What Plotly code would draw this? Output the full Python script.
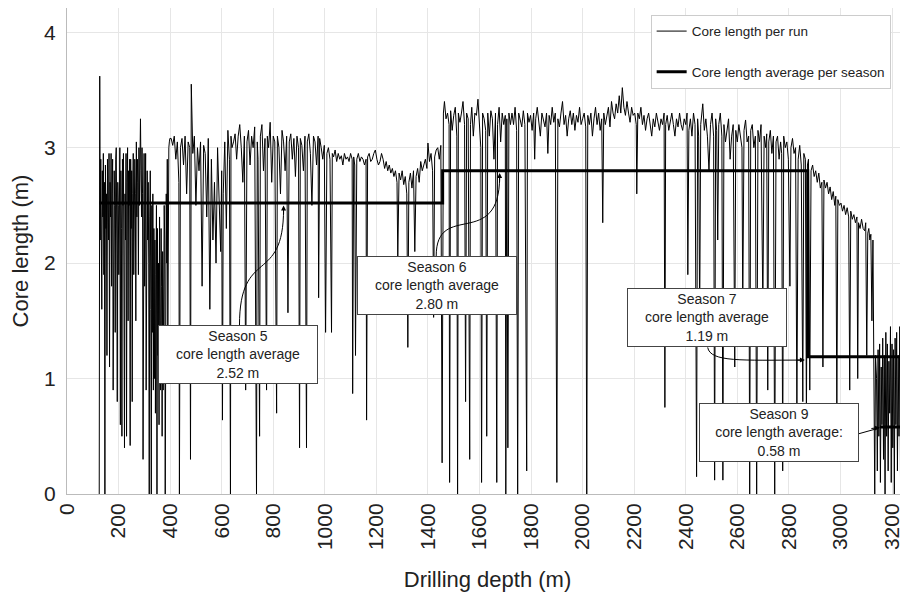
import plotly.graph_objects as go

# ---------------- data: core length per run ----------------
depth_s5a = [125,127,129,131,133,135,137,139,141,143,
             145,147,149,151,153,155,157,159,161,163,
             165,167,169,171,173,175,177,179,181,183,
             185,187,189,191,193,195,197,199,201,203,
             205,207,209,211,213,215,217,219,221,223,
             225,227,229,231,233,235,237,239,241,243,
             245,247,249,251,253,255,257,259,261,263,
             265,267,269,271,273,275,277,279,281,283,
             285,287,289,291,293,295,297,299,301,303,
             305,307,309,311,313,315,317,319,321,323,
             325,327,329,331,333,335,337,339,341,343,
             345,347,349,351,353,355,357,359,361,363,
             365,367,369,371,373,375,377,379,381,383,
             385,387,389,391,393,395,397,399]
length_s5a = [0.0,3.62,2.2,2.9,2.5,1.6,2.8,2.4,2.95,1.9,
              2.7,0.0,2.85,2.3,2.6,1.2,2.9,2.5,2.2,2.95,
              1.1,2.7,2.4,2.95,1.8,2.6,2.9,0.9,2.3,2.8,
              2.5,1.4,2.9,3.0,2.2,0.8,2.7,2.5,1.9,2.95,
              3.0,0.6,2.8,2.3,0.5,2.9,2.5,2.95,1.7,0.4,
              2.6,2.2,2.95,0.5,2.7,3.0,1.5,2.8,2.5,2.9,
              0.42,2.9,2.3,2.8,0.8,2.6,2.95,1.9,2.4,2.9,
              2.6,1.5,3.05,2.4,2.9,2.7,1.9,3.0,2.5,2.9,
              3.25,2.8,2.4,3.0,2.6,0.3,2.7,2.95,1.8,2.6,
              2.95,0.9,2.5,2.8,2.2,2.7,2.0,0.0,2.4,2.8,
              1.6,0.0,2.5,1.4,2.6,0.9,2.3,1.0,2.2,0.7,
              1.9,2.5,0.0,2.3,1.2,2.0,0.6,2.4,1.5,0.9,
              2.3,1.8,0.5,2.1,0.9,1.7,2.5,2.2,0.0,1.5,
              2.6,2.0,2.9,1.3,2.7,3.0,3.05,3.08]

depth_s5b = [404,410,416,422,428,434,436,440,446,452,
             458,464,470,476,479,482,488,494,500,506,
             512,518,524,530,536,542,548,554,560,566,
             572,578,584,590,596,600,603,606,612,618,
             624,630,634,636,640]
length_s5b = [3.08,3.02,3.1,2.9,3.05,2.7,0.0,3.0,3.08,2.85,
              3.1,2.6,3.05,3.0,0.3,3.55,2.95,3.1,2.5,3.0,
              2.8,3.05,1.8,3.02,2.95,2.4,3.08,1.6,2.9,2.2,
              2.7,2.0,3.0,2.5,2.1,2.8,0.64,2.6,3.05,2.3,
              3.15,2.9,0.0,3.1,3.0]

depth_s5c = [646,652,658,664,670,676,682,688,693,698,
             704,710,716,722,728,735,738,741,747,750,
             756,762,768,774,777,782,788,794,800,806,
             813,816,822,828,834,840,846,852,857,862,
             868,874,880,886,892,898,902,905,911,917,
             923,929,932,938,944,950,956,962,968,974,
             976,980,986,992,998]
length_s5c = [3.05,3.12,2.9,3.1,3.2,3.0,2.7,3.1,0.9,3.05,
              3.15,2.85,3.1,3.0,3.18,0.0,3.05,2.9,0.5,3.1,
              3.2,2.8,3.08,0.9,3.1,3.0,3.22,2.7,3.1,3.05,
              0.7,3.1,3.0,2.6,3.15,3.05,2.8,3.1,1.57,3.05,
              3.12,2.9,3.08,2.75,3.1,3.0,0.4,3.08,3.02,2.8,
              3.1,0.4,3.05,3.12,2.95,2.5,3.1,3.05,2.85,3.1,
              1.7,3.08,3.0,2.9,3.02]

depth_s5d = [1003,1008,1014,1020,1026,1029,1034,1040,1046,1052,
             1058,1064,1070,1076,1082,1088,1094,1100,1106,1108,
             1112,1116,1119,1124,1130,1136,1142,1148,1154,1160,
             1162,1166,1172,1178,1184,1190,1196,1202,1208,1214,
             1220,1226,1232,1238,1244,1250,1256,1262,1268,1274,
             1280,1283,1288,1294,1300,1306,1312,1318,1322,1326,
             1332,1338,1344,1349,1354,1360,1366,1372,1378,1384,
             1390,1396,1400,1406,1412,1418,1422,1426,1432,1438,
             1444,1450,1455]
length_s5d = [1.4,2.95,3.0,2.9,1.4,2.95,2.92,2.98,2.88,2.95,
              2.9,2.93,2.85,2.95,2.9,2.92,2.88,2.95,2.9,0.87,
              2.92,2.85,1.2,2.9,2.95,2.88,2.92,2.9,2.85,2.9,
              0.64,2.92,2.95,2.88,2.9,2.95,2.98,2.9,2.85,2.88,
              2.95,2.9,2.82,2.88,2.8,2.85,2.78,2.82,2.75,2.8,
              2.7,2.05,2.78,2.72,2.8,2.68,2.75,2.6,1.27,2.7,
              2.78,2.65,2.8,2.1,2.75,2.82,2.7,2.88,2.8,2.85,
              2.9,2.82,3.04,2.88,2.95,2.8,1.53,2.92,2.98,3.0,
              2.9,3.02,0.27]

depth_s6a = [1460,1464,1470,1476,1482,1484,1488,1494,1500,1506,
             1512,1515,1518,1524,1530,1536,1542,1546,1550,1556,
             1562,1565,1570,1576,1582,1588,1594,1600,1605,1608,
             1612,1618,1624,1628,1632,1638,1644,1650,1656,1662,
             1667,1670,1676,1682,1688,1694,1700,1702,1706,1710,
             1714,1720]
length_s6a = [3.3,3.4,3.25,3.3,3.2,0.1,3.32,3.15,3.28,3.35,
              3.1,0.0,3.3,3.22,3.3,3.4,3.2,0.8,3.3,3.25,
              0.3,3.2,3.35,3.1,3.3,3.28,3.42,3.2,3.0,0.1,
              3.3,3.25,3.15,0.5,3.3,3.1,3.32,3.25,2.9,3.3,
              0.1,3.2,3.35,3.05,3.3,3.2,3.28,0.0,3.25,0.4,
              3.3,3.2]

depth_s6b = [1726,1732,1738,1744,1748,1752,1758,1764,1770,1776,
             1783,1786,1792,1798,1804,1810,1814,1818,1824,1830,
             1836,1842,1848,1854,1860,1865,1870,1876,1882,1888,
             1894,1900,1904,1910,1916,1922,1928,1934,1940,1946,
             1952,1958,1964,1970,1976,1982,1988,1994,2000,2006,
             2012,2016,2020,2026,2032,2038,2044,2050,2056,2062,
             2068,2074,2078,2082,2088,2094,2100,2106,2112,2118,
             2124,2130,2136,2142,2148,2154,2160,2166,2172,2178,
             2184,2190,2196,2202,2208,2210,2214,2220,2226,2232,
             2238,2244,2250,2256,2262,2268,2274,2280,2286,2292,
             2298,2304,2310,2316,2319,2322,2328,2334,2340,2346,
             2352,2358,2364,2370,2376,2382,2388,2394]
length_s6b = [3.3,3.2,3.35,3.15,0.0,3.3,3.25,3.18,3.32,3.2,
              0.2,3.3,3.22,3.28,3.15,3.3,2.9,3.25,3.35,3.2,
              3.1,3.3,3.25,3.18,3.3,2.95,3.28,3.2,3.35,3.22,
              3.3,0.1,3.25,3.18,3.3,3.4,3.2,3.28,3.1,3.25,
              3.32,3.2,3.3,3.15,3.28,3.22,3.35,3.2,3.25,3.3,
              3.18,0.0,3.28,3.2,3.3,3.1,3.25,3.35,3.2,3.3,
              3.15,3.25,2.35,3.3,3.2,3.28,3.35,3.18,3.4,3.3,
              3.25,3.38,3.3,3.45,3.3,3.52,3.35,3.28,3.4,3.3,
              3.22,3.35,3.28,3.3,3.2,2.6,3.3,3.25,3.35,3.2,
              3.28,3.15,3.25,3.3,3.2,3.1,3.25,3.18,3.3,3.22,
              3.15,3.25,3.2,3.3,0.75,3.2,3.28,3.15,3.22,3.3,
              3.2,3.1,3.25,3.18,3.3,3.2,3.15,3.25]

depth_s6c = [2400,2405,2408,2412,2418,2424,2430,2436,2442,2446,
             2450,2454,2458,2462,2466,2472,2478,2484,2490,2496,
             2502,2508,2512,2516,2520,2524,2528,2534,2540,2544,
             2548,2554,2560,2566,2572,2578,2584,2590,2594,2600,
             2606,2612,2618,2621,2626,2632,2638,2644,2648,2652,
             2658,2664,2670,2675,2680,2686,2692,2699,2704,2710,
             2714,2718,2722,2728,2734,2740,2745,2750,2756,2762,
             2768,2772,2776,2780,2786,2792,2798,2804,2808,2814,
             2820,2826,2831,2836,2842,2848,2854,2858,2864,2868]
length_s6c = [3.2,3.3,1.9,3.15,3.25,3.1,3.3,3.2,0.15,3.25,
              3.1,1.5,3.2,3.3,3.38,3.15,3.25,3.1,2.8,3.2,
              3.3,3.1,0.12,3.25,3.15,2.2,3.2,3.3,3.1,0.12,
              3.2,3.05,3.15,3.25,2.9,3.1,3.2,1.1,3.15,3.05,
              3.2,3.1,3.0,1.6,3.15,3.24,3.05,3.1,0.0,3.15,
              3.2,3.0,3.1,0.0,3.15,3.05,3.2,1.6,3.1,3.0,
              3.12,0.9,3.05,3.15,2.95,3.1,0.0,3.05,3.1,2.9,
              3.05,2.95,0.2,3.1,3.0,3.05,2.9,1.8,3.0,3.08,
              2.95,3.0,0.7,2.9,3.02,2.85,0.8,2.95,2.9,0.6]

depth_s7 = [2872,2876,2881,2886,2892,2898,2904,2910,2916,2922,
            2928,2932,2936,2942,2948,2954,2960,2966,2972,2978,
            2982,2986,2990,2996,3002,3008,3014,3020,3026,3032,
            3036,3040,3046,3052,3058,3064,3067,3070,3076,3082,
            3088,3094,3098,3102,3106,3110,3114,3118,3122,3126,
            3130,3133,3136,3140]
length_s7 = [2.85,2.9,0.9,2.8,2.85,2.75,2.8,2.7,2.78,2.65,
             2.7,1.1,2.72,2.65,2.7,2.6,2.66,2.55,2.62,2.5,
             2.58,0.7,2.55,2.5,2.52,2.45,2.5,2.42,2.48,2.4,
             0.9,2.45,2.38,2.42,2.35,2.4,1.0,2.35,2.3,2.38,
             2.3,2.28,2.35,1.2,2.26,2.3,2.2,2.25,1.5,2.2,
             1.3,0.0,1.2,1.0]

depth_s9 = [3143,3146,3149,3152,3155,3158,3161,3164,3167,3170,
            3173,3176,3179,3182,3185,3188,3191,3194,3197,3200,
            3203,3206,3209,3212,3215,3218,3221,3224,3227,3230,
            3233,3236,3239,3242,3245,3248,3251,3254,3257,3260,
            3263]
length_s9 = [0.2,1.25,0.5,1.3,0.1,1.1,0.6,1.35,0.3,1.2,
             0.0,1.4,0.5,1.3,0.2,1.15,0.7,1.45,0.1,1.3,
             0.4,1.25,0.0,1.35,0.6,1.4,0.2,1.2,0.5,1.45,
             0.1,1.3,0.3,1.35,0.0,1.2,0.6,1.4,0.2,1.3,
             0.8]

# season averages (step line) and season 9 average
avg_depth = [126, 1457, 1457, 2873, 2873, 3275]
avg_length = [2.52, 2.52, 2.80, 2.80, 1.19, 1.19]
s9_avg_depth = [3153, 3275]
s9_avg_length = [0.58, 0.58]

x_ticks = [0, 200, 400, 600, 800, 1000, 1200, 1400, 1600, 1800,
           2000, 2200, 2400, 2600, 2800, 3000, 3200]
y_ticks = [0, 1, 2, 3, 4]

run_depth = (depth_s5a + depth_s5b + depth_s5c + depth_s5d + depth_s6a +
             depth_s6b + depth_s6c + depth_s7 + depth_s9)
run_length = (length_s5a + length_s5b + length_s5c + length_s5d + length_s6a +
              length_s6b + length_s6c + length_s7 + length_s9)

FONT = "Liberation Sans, Arial, sans-serif"
TXT = "#222222"

fig = go.Figure()
fig.add_trace(go.Scatter(
    x=run_depth, y=run_length, mode="lines", name="Core length per run",
    line=dict(color="#000000", width=1), legendgroup="a"))
fig.add_trace(go.Scatter(
    x=avg_depth, y=avg_length, mode="lines", name="Core length average per season",
    line=dict(color="#000000", width=3), legendgroup="b"))
fig.add_trace(go.Scatter(
    x=s9_avg_depth, y=s9_avg_length, mode="lines", showlegend=False,
    line=dict(color="#000000", width=3), legendgroup="b"))

# curved connectors
curves = [
    "M 669,1.46 C 669,2.15 840,1.80 840,2.47",
    "M 1432,2.06 C 1432,2.55 1678,2.10 1678,2.75",
    "M 2485,1.27 C 2495,1.14 2620,1.16 2855,1.16",
    "M 3068,0.52 L 3148,0.57",
]
shapes = [dict(type="path", path=p, xref="x", yref="y",
               line=dict(color="#000000", width=1)) for p in curves]

annotations = []
boxes = [
    (665, 1.21, "Season 5<br>core length average<br>2.52 m"),
    (1434, 1.81, "Season 6<br>core length average<br>2.80 m"),
    (2481, 1.53, "Season 7<br>core length average<br>1.19 m"),
    (2761, 0.53, "Season 9<br>core length average:<br>0.58 m"),
]
for bx, by, t in boxes:
    annotations.append(dict(
        x=bx, y=by, xref="x", yref="y", text=t, showarrow=False,
        font=dict(family=FONT, size=14, color=TXT), align="center",
        bgcolor="#ffffff", bordercolor="#444444", borderwidth=1,
        width=156, height=55, borderpad=1))

heads = [(840, 2.50, 0, 10), (1678, 2.78, 0, 10), (2862, 1.16, -10, 0), (3153, 0.575, -10, 1)]
for hx, hy, ax, ay in heads:
    annotations.append(dict(
        x=hx, y=hy, xref="x", yref="y", text="", showarrow=True,
        ax=ax, ay=ay, arrowhead=2, arrowsize=1, arrowwidth=1, arrowcolor="#000000"))

# the page places the figure 8 px from the window's top-left corner
fig.update_layout(
    width=900, height=596,
    margin=dict(l=59, r=0, t=0, b=110),
    paper_bgcolor="#ffffff", plot_bgcolor="#ffffff",
    font=dict(family=FONT, color=TXT),
    shapes=shapes, annotations=annotations,
    legend=dict(x=0.694, y=0.986, xanchor="left", yanchor="top",
                bgcolor="#ffffff", bordercolor="#cccccc", borderwidth=1,
                font=dict(family=FONT, size=13.5, color=TXT),
                tracegroupgap=20, itemwidth=30),
    xaxis=dict(range=[0, 3262], tickvals=x_ticks, tickangle=-90,
               tickfont=dict(size=21, color=TXT),
               title=dict(text="Drilling depth (m)", font=dict(size=22, color=TXT), standoff=22),
               showgrid=True, gridcolor="#e6e6e6", gridwidth=1,
               showline=True, linecolor="#bbbbbb", mirror=True, zeroline=False, ticks=""),
    yaxis=dict(range=[0, 4.21], tickvals=y_ticks,
               tickfont=dict(size=21, color=TXT), ticklabelstandoff=6,
               title=dict(text="Core length (m)", font=dict(size=22, color=TXT), standoff=10),
               showgrid=True, gridcolor="#e6e6e6", gridwidth=1,
               showline=True, linecolor="#bbbbbb", mirror=True, zeroline=False, ticks=""),
)

fig.write_html("out.html")
